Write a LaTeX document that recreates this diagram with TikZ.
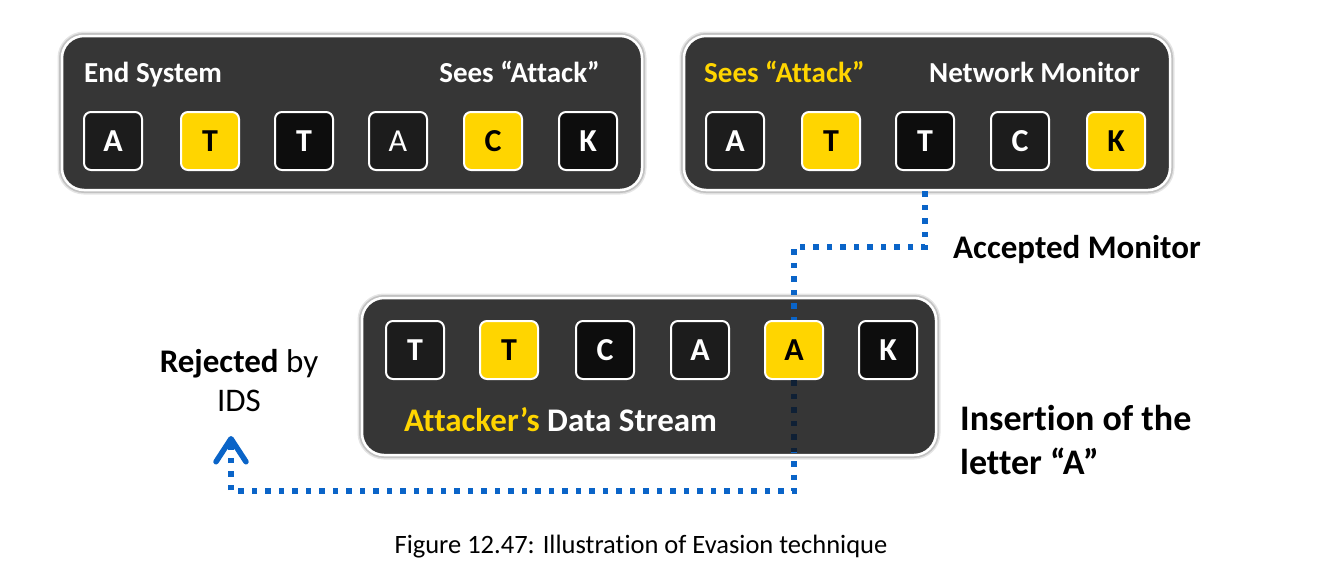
\documentclass[tikz,border=0pt]{standalone}
\usepackage{fontspec}
\setmainfont[Ligatures=NoCommon]{Carlito}
\usetikzlibrary{arrows.meta}
\definecolor{panelfill}{HTML}{363636}
\definecolor{boxdark}{HTML}{1C1C1C}
\definecolor{boxblack}{HTML}{0D0D0D}
\definecolor{gold}{HTML}{FFD500}
\definecolor{linkblue}{HTML}{0A64C8}
\definecolor{navy}{HTML}{0F2035}
\tikzset{
  panel/.style={draw=white, line width=2.5pt, fill=panelfill, rounded corners=22pt, inner sep=0pt,
    preaction={draw=black, line width=9pt, opacity=0.10},
    preaction={draw=black, line width=6pt, opacity=0.15}},
  letter/.style={draw=white, line width=2pt, rounded corners=7pt, minimum width=58pt, minimum height=58pt,
    inner sep=0pt, font=\fontsize{32}{32}\selectfont\bfseries, text=white},
  dk/.style={letter, fill=boxdark},
  bk/.style={letter, fill=boxblack},
  yl/.style={letter, fill=gold, text=black},
  lbl/.style={font=\fontsize{29}{32}\selectfont\bfseries, text=white, inner sep=0pt},
  big/.style={font=\fontsize{33}{33}\selectfont, text=black, inner sep=0pt},
  dots/.style={linkblue, line width=5.5pt, dash pattern=on 5.5pt off 8pt},
}
\begin{document}
\begin{tikzpicture}[x=1pt,y=-1pt]
\useasboundingbox[fill=white] (0,0) rectangle (1330,587);
% panels
\node[panel, minimum width=580pt, minimum height=154pt] (P1) at (352,113) {};
\node[panel, minimum width=486pt, minimum height=154pt] (P2) at (927,113) {};
\node[panel, minimum width=574pt, minimum height=157pt] (P3) at (649,376.5) {};
% panel 1
\node[dk] (a1) at (113,141) {A};
\node[yl] (a2) at (210,141) {T};
\node[bk] (a3) at (304,141) {T};
\node[dk, font=\fontsize{32}{32}\selectfont] (a4) at (398,141) {A};
\node[yl] (a5) at (493,141) {C};
\node[bk] (a6) at (588,141) {K};
\node[lbl, anchor=base west] (es) at (84,82) {End System};
\node[lbl, anchor=base east] (s1) at (600,82) {Sees “Attack”};
% panel 2
\node[dk] (n1) at (735,141) {A};
\node[yl] (n2) at (831,141) {T};
\node[bk] (n3) at (925,141) {T};
\node[dk] (n4) at (1020,141) {C};
\node[yl] (n5) at (1116,141) {K};
\node[lbl, anchor=base west, text=gold] (s2) at (704,82) {Sees “Attack”};
\node[lbl, anchor=base east] (nm) at (1140,82) {Network Monitor};
% panel 3
\node[dk] (q1) at (415,350) {T};
\node[yl] (q2) at (509,350) {T};
\node[bk] (q3) at (605,350) {C};
\node[dk] (q4) at (700,350) {A};
\node[yl] (q5) at (794,350) {A};
\node[bk] (q6) at (888,350) {K};
\node[lbl, font=\fontsize{33}{33}\selectfont\bfseries, anchor=base west] (ds) at (404,431)
  {\textcolor{gold}{Attacker’s} Data Stream};
% outside labels
\node[big, font=\fontsize{33}{33}\selectfont\bfseries, anchor=base west] (acc) at (953,258) {Accepted Monitor};
\node[big, anchor=base] (rej1) at (239,372) {\textbf{Rejected} by};
\node[big, anchor=base] (rej2) at (239,411) {IDS};
\node[big, font=\fontsize{36}{36}\selectfont\bfseries, anchor=base west] (ins1) at (960,430) {Insertion of the};
\node[big, font=\fontsize{36}{36}\selectfont\bfseries, anchor=base west] (ins2) at (960,474) {letter “A”};
\node[big, font=\fontsize{26.5}{26.5}\selectfont, anchor=base] (cap) at (641,553) {Figure 12.47: Illustration of Evasion technique};
% connectors
\coordinate (k2) at (794,247);
\coordinate (k3) at (231,491);
\coordinate (tip) at (231,436);
\draw[dots] (P2.south -| n3) |- (k2) -- (q5.north);
\draw[dots, -{Straight Barb[length=23pt, width=30pt, line width=5.5pt, round]}] (q5.south) |- (k3) -- (tip);
\begin{scope}
  \clip (366,302) rectangle (932,451);
  \draw[dots, navy] (q5.south) |- (k3);
\end{scope}
\end{tikzpicture}
\end{document}
